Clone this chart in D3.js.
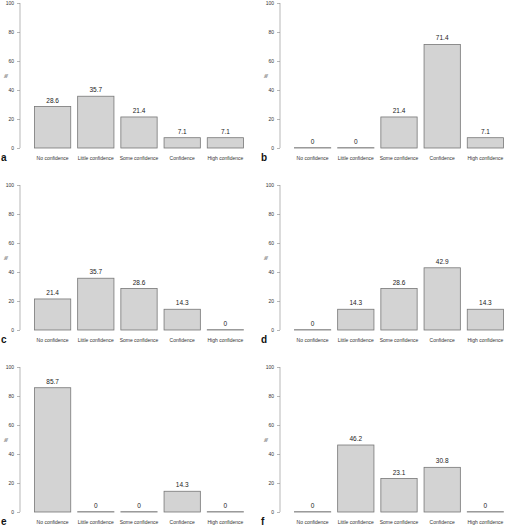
<!DOCTYPE html><html><head><meta charset="utf-8"><script src="https://cdn.jsdelivr.net/npm/d3@7"></script>
<style>body{margin:0;background:#fff}text{font-family:"Liberation Sans",Arial,sans-serif}</style></head><body>
<script>
const categories=["No confidence","Little confidence","Some confidence","Confidence","High confidence"];
const panelLetters=["a","b","c","d","e","f"];
const valuesA=[28.6,35.7,21.4,7.1,7.1];
const valuesB=[0,0,21.4,71.4,7.1];
const valuesC=[21.4,35.7,28.6,14.3,0];
const valuesD=[0,14.3,28.6,42.9,14.3];
const valuesE=[85.7,0,0,14.3,0];
const valuesF=[0,46.2,23.1,30.8,0];
const yTicks=[0,20,40,60,80,100];
const all=[valuesA,valuesB,valuesC,valuesD,valuesE,valuesF];
const svg=d3.select("body").append("svg").attr("width",520).attr("height",529);
const x=d3.scaleBand().domain(categories).range([31,247]).paddingInner(0.16).paddingOuter(0.08);
const y=d3.scaleLinear().domain([0,100]).range([148,3]);
all.forEach((vals,i)=>{
  const g=svg.append("g").attr("transform",`translate(${(i%2)*260},${Math.floor(i/2)*182})`);
  const ax=g.append("g").attr("transform","translate(20,0)").call(d3.axisLeft(y).tickValues(yTicks).tickSize(3).tickPadding(3));
  ax.selectAll("path,line").attr("stroke","#888").attr("stroke-width",0.6);
  ax.select("path").attr("d","M0,148V3");
  ax.selectAll("text").attr("font-size",5).attr("fill","#333");
  g.append("text").attr("transform","translate(8,76) rotate(-90)").attr("text-anchor","middle").attr("font-size",5).attr("fill","#333").text("%");
  g.selectAll("rect").data(vals).join("rect")
   .attr("x",(d,j)=>x(categories[j])).attr("width",x.bandwidth())
   .attr("y",d=>Math.min(y(d),y(0)-0.3)).attr("height",d=>Math.max(0.3,y(0)-y(d)))
   .attr("fill","#d3d3d3").attr("stroke","#777").attr("stroke-width",0.8);
  g.selectAll(".v").data(vals).join("text")
   .attr("x",(d,j)=>x(categories[j])+x.bandwidth()/2).attr("y",d=>y(d)-4)
   .attr("text-anchor","middle").attr("font-size",6.5).attr("fill","#222").text(d=>d);
  g.selectAll(".c").data(categories).join("text")
   .attr("x",d=>x(d)+x.bandwidth()/2).attr("y",160)
   .attr("text-anchor","middle").attr("font-size",5).attr("fill","#333").text(d=>d);
  g.append("text").attr("x",1).attr("y",161).attr("font-size",10).attr("font-weight","bold").attr("fill","#111").text(panelLetters[i]);
});
</script></body></html>
